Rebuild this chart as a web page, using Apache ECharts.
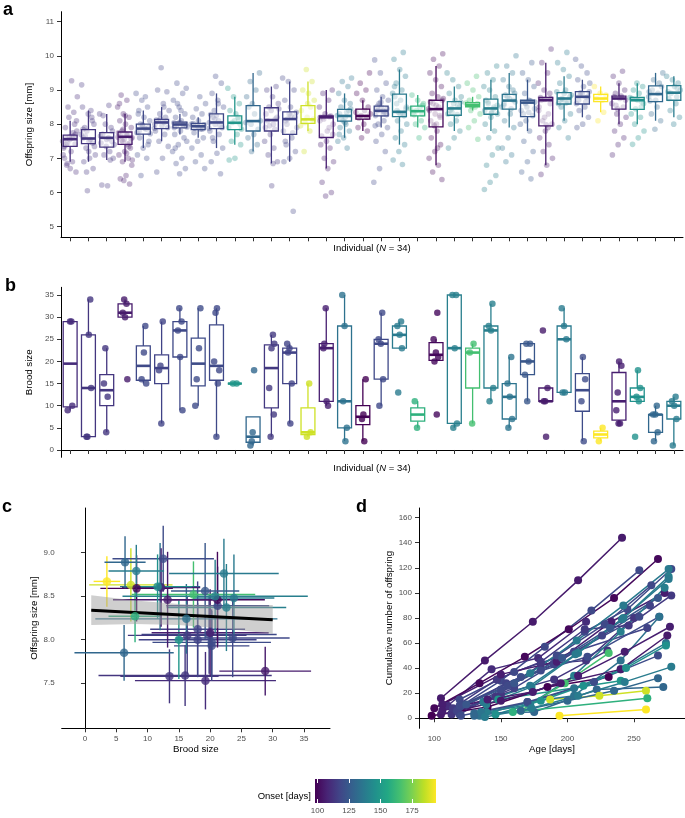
<!DOCTYPE html>
<html><head><meta charset="utf-8">
<script src="https://cdn.jsdelivr.net/npm/echarts@6/dist/echarts.min.js"></script>
<style>html,body{margin:0;padding:0;background:#fff}#c{width:685px;height:818px}</style>
</head><body><div id="c"></div>
<script>
// ---------- DATA ----------
const individuals = Array.from({length:34},(_, i)=>String(i+1));
const onset = [110,113,113,105,119,117,119,120,119,148,130,114,117,187,106,134,98,119,137,159,100,139,165,139,135,124,105,137,120,194,106,146,130,138];

// brood sizes per individual, in chronological order
const broods = [
 [10,29,9,29],[3,14,26,3,34],[4,15,12,23],[16,30,31,33,34],[15,22,16,28],[6,18,29,19],
 [9,21,27,29,32],[10,23,16,32],[3,20,15,31,18,32],[15,15],[4,1,18,2],[8,23,14,26,3,24],
 [6,22,15,23,24],[15,3,4],[11,24,10,32,23],[2,11,5,28,35],[2,7,16,8],[10,16,24,25,31],
 [13,23,26,28,29],[5,11],[8,20,21,22,25,31],[5,6,23,35,35],[6,22,24],[11,14,27,28,33],
 [5,7,12,15,21],[11,17,20,24,24],[3,11,14,11,27],[13,13,25,28,32],[2,11,16,21],[2,5],
 [6,9,6,13,19,20],[3,11,12,14,18],[2,4,8,8,10],[1,7,10,11,12]
];
// age (days) at each brood
const broodAges = [
 [110,143,178,214],[113,146,180,214,250],[113,150,190,230],[105,138,174,208,241],[119,160,205,254],[117,160,205,260],
 [119,150,183,218,254],[120,165,215,269],[119,150,180,213,245,278],[148,240],[130,175,222,272],[114,147,180,213,246,278],
 [117,154,190,226,262],[187,224,259],[106,150,192,233,273],[134,170,205,240,269],[98,140,185,231],[119,155,192,228,263],
 [137,172,207,242,276],[159,260],[100,134,168,201,235,268],[139,172,205,240,273],[165,198,231],[139,173,208,242,276],
 [135,170,205,240,274],[124,160,196,232,268],[105,150,195,240,275],[137,172,206,241,276],[120,170,220,268],[194,259],
 [106,140,174,208,243,277],[146,180,212,244,274],[130,165,200,235,268],[138,173,208,243,278]
];
// offspring size quartiles [Q1, median, Q3] per individual (panel a)
const sizeQuartiles = [
 [7.35,7.56,7.68],[7.43,7.58,7.84],[7.33,7.60,7.75],[7.41,7.63,7.77],[7.71,7.87,8.00],[7.87,8.05,8.14],
 [7.89,7.99,8.06],[7.84,7.94,8.02],[7.87,8.05,8.30],[7.84,8.04,8.24],[7.80,8.09,8.54],[7.80,8.12,8.48],
 [7.70,8.15,8.36],[8.02,8.14,8.54],[7.61,8.20,8.24],[8.09,8.24,8.43],[8.15,8.24,8.44],[8.24,8.39,8.53],
 [8.22,8.36,8.88],[8.24,8.38,8.53],[7.92,8.44,8.70],[8.26,8.46,8.66],[8.51,8.56,8.63],[8.29,8.46,8.73],
 [8.44,8.69,8.87],[8.22,8.63,8.70],[7.95,8.70,8.78],[8.59,8.75,8.92],[8.59,8.80,8.95],[8.66,8.75,8.87],
 [8.44,8.75,8.82],[8.43,8.70,8.78],[8.66,8.88,9.12],[8.70,8.92,9.13]
];
// offspring sizes (mm), a readable sample per individual (panel a)
const sizePoints = [
 [7.5,7.6,7.4,7.7,7.55,7.35,7.65,7.45,7.8,7.2,7.9,8.0,8.2,7.1,6.9,6.8,6.6,6.7,7.0,8.35,8.5,8.8,9.27,7.58,7.42,7.62,7.3,7.75,6.85,8.1],
 [7.5,7.6,7.45,7.8,7.7,7.55,7.9,8.0,8.3,8.5,8.2,7.3,7.1,7.0,6.9,6.7,6.05,9.15,8.4,7.65,7.35,7.2,7.85,8.1,6.6],
 [7.4,7.6,7.7,7.5,7.35,7.65,7.2,7.1,7.0,6.2,6.22,7.9,8.0,8.3,8.55,8.25,7.8,7.55,7.45,6.95],
 [7.5,7.6,7.7,7.65,7.45,7.55,7.75,7.42,7.8,7.9,8.0,8.1,8.2,8.3,8.5,8.7,8.85,7.3,7.2,7.1,7.0,6.9,6.8,6.5,6.4,6.25,6.35,7.62,7.68,7.52,7.58,8.25,8.6,7.35,7.85,6.95,7.15],
 [7.8,7.9,7.95,7.75,7.85,8.0,8.1,8.2,8.3,8.5,8.7,8.9,8.8,7.6,7.5,7.3,7.1,7.0,6.5,7.72,7.88,8.4,7.4,7.98],
 [8.0,8.05,8.1,7.9,7.95,8.12,8.2,8.3,8.4,8.6,9.0,8.95,9.65,7.8,7.7,7.5,7.35,7.0,6.6,8.08,8.15,7.88,8.5],
 [7.95,8.0,8.05,7.9,7.98,8.02,7.92,8.1,8.2,8.3,8.5,8.7,8.9,9.2,9.05,7.8,7.7,7.6,7.4,7.2,7.0,6.85,6.7,6.55,8.04,7.96,8.6,7.5,8.4,7.3],
 [7.9,7.95,8.0,7.85,7.88,7.98,8.1,8.2,8.3,8.45,8.6,8.8,7.75,7.6,7.5,7.3,7.1,6.9,6.7,7.92,8.02,7.86],
 [8.0,8.05,8.1,8.2,7.9,8.25,8.28,7.95,8.4,8.5,8.7,8.9,9.2,9.4,7.8,7.7,7.5,7.3,7.15,6.9,6.55,8.15,7.88,8.6,7.6],
 [8.0,8.1,7.9,8.2,8.05,7.85,8.3,8.4,8.6,8.8,9.05,7.7,7.5,7.4,7.0,6.95,8.15],
 [8.0,8.1,8.3,8.5,7.85,8.6,8.8,9.0,9.25,9.5,7.7,7.6,7.4,7.2,8.05],
 [8.0,8.1,8.2,8.4,7.9,7.85,8.5,8.6,8.8,9.0,9.1,7.7,7.5,7.3,7.1,6.9,6.2,8.3,8.15,7.95,8.45,6.85],
 [8.1,8.2,8.3,7.8,7.75,8.0,8.35,8.5,8.7,9.0,9.25,9.35,7.6,7.4,7.2,7.0,6.9,5.45,8.15,7.9,8.25,7.5],
 [8.1,8.2,8.4,8.5,8.05,8.7,8.9,9.0,9.25,9.6,7.95,7.8,7.2,8.15,8.6],
 [8.2,8.22,8.15,8.0,7.8,7.65,8.24,8.3,8.5,8.7,8.9,9.0,7.5,7.4,7.3,7.0,6.9,6.7,6.3,6.0,5.9,8.1,7.9,8.21,7.7],
 [8.2,8.3,8.4,8.1,8.25,8.35,8.5,8.6,8.7,8.9,9.1,9.25,9.35,8.0,7.9,7.8,7.6,7.5,7.3,8.15,8.45,8.05,7.7],
 [8.2,8.25,8.3,8.4,8.18,8.5,8.7,8.9,9.0,9.2,9.5,8.0,7.9,7.8,7.6,8.35],
 [8.3,8.4,8.45,8.5,8.25,8.35,8.6,8.7,8.8,9.0,9.2,9.5,9.88,8.1,8.0,7.9,7.7,7.5,7.2,6.7,6.3,8.38,8.52,8.28,8.65,7.95],
 [8.3,8.4,8.5,8.7,8.8,8.25,8.35,8.9,9.0,9.2,9.4,9.6,9.9,10.1,8.1,8.0,7.8,7.6,7.4,7.2,6.95,6.82,8.6,8.45,8.28,9.1],
 [8.3,8.4,8.45,8.5,8.28,8.6,8.7,8.85,8.1,8.0,7.9,7.6,8.35,8.55],
 [8.3,8.4,8.5,8.6,8.7,8.0,8.1,8.2,7.95,8.45,8.8,8.9,9.1,9.3,9.5,9.7,9.9,10.06,7.8,7.6,7.4,7.2,7.0,6.8,6.6,6.38,8.55,8.65,8.25,7.98,8.75,7.3],
 [8.4,8.5,8.6,8.3,8.28,8.45,8.65,8.7,8.9,9.1,9.3,9.5,8.1,8.0,7.8,7.6,7.3,8.55,8.35,8.8],
 [8.55,8.58,8.6,8.52,8.62,8.5,8.7,8.8,9.0,9.2,9.4,8.4,8.3,8.1,7.9,7.56,8.57],
 [8.4,8.5,8.6,8.3,8.35,8.7,8.8,9.0,9.1,9.3,9.5,9.7,8.2,8.0,7.8,7.6,7.3,7.1,6.8,6.5,6.3,6.09,8.45,8.65,8.55,8.32],
 [8.6,8.7,8.8,8.5,8.45,8.85,8.9,9.1,9.3,9.5,9.7,10.0,8.3,8.1,7.9,7.6,7.3,7.1,6.9,8.65,8.75,8.55,9.0],
 [8.6,8.65,8.7,8.3,8.25,8.5,8.4,8.68,8.9,9.1,9.3,9.5,9.8,8.1,8.0,7.8,7.5,7.2,6.9,6.6,6.4,8.62,8.45,8.35],
 [8.7,8.75,8.72,8.5,8.3,8.1,8.0,7.98,8.78,8.9,9.0,9.2,9.5,9.8,10.2,7.8,7.6,7.4,7.2,7.0,6.8,6.53,8.6,8.2,8.4,7.9],
 [8.7,8.8,8.9,8.6,8.65,8.75,8.85,9.0,9.2,9.4,9.6,9.8,10.1,8.5,8.3,8.1,7.9,7.6,8.72,8.95,8.62],
 [8.7,8.8,8.9,8.6,8.65,8.85,8.95,9.1,9.3,9.5,9.7,9.9,8.5,8.4,8.2,8.0,7.9,8.78,8.92,9.2],
 [8.7,8.75,8.85,8.9,9.1,8.35,8.1],
 [8.7,8.75,8.8,8.5,8.45,8.6,8.82,8.9,9.0,9.2,9.4,9.55,8.3,8.2,8.0,7.8,7.6,7.4,7.1,8.78,8.55],
 [8.6,8.7,8.75,8.5,8.45,8.78,8.9,9.0,9.1,9.2,8.3,8.2,8.0,7.8,7.6,7.41,8.65,8.72],
 [8.8,8.9,9.0,9.1,8.7,8.68,9.2,9.3,9.5,8.5,8.3,8.1,7.85,8.95],
 [8.8,8.9,9.0,9.1,8.75,9.2,9.3,9.4,8.6,8.4,8.2,8.0,8.95,9.05]
];
// panel c: mean and SD of offspring size per individual
const sizeMean = [7.53,7.59,7.58,7.64,7.93,8.00,8.02,7.97,8.06,8.00,7.85,8.05,8.12,8.63,8.08,8.24,8.59,8.39,8.48,8.27,8.46,8.50,8.52,8.37,8.61,8.56,8.46,8.76,8.93,8.67,8.60,8.61,8.89,8.79];
const sizeSd = [0.33,0.35,0.31,0.28,0.40,0.42,0.45,0.38,0.45,0.45,0.32,0.45,0.55,0.42,0.50,0.40,0.38,0.45,0.50,0.30,0.55,0.42,0.38,0.50,0.50,0.55,0.55,0.40,0.38,0.29,0.45,0.37,0.30,0.30];
// regression line and confidence band (panel c)
const fitX = [1, 30];
const fitY = [8.34, 8.23];
const bandX = [1, 8, 15, 22, 30];
const bandLo = [8.17, 8.18, 8.17, 8.13, 8.07];
const bandHi = [8.51, 8.45, 8.41, 8.39, 8.40];
// tick labels
const ticksA = [5,6,7,8,9,10,11];
const ticksB = [0,5,10,15,20,25,30,35];
const ticksCx = [0,5,10,15,20,25,30,35];
const ticksCy = [7.5,8.0,8.5,9.0];
const ticksDx = [100,150,200,250];
const ticksDy = [0,20,40,60,80,100,120,140,160];
const ticksLegend = [100,125,150,175];

// ---------- HELPERS ----------
const VIR = ['#440154','#482475','#414487','#355f8d','#2a788e','#21918c','#22a884','#44bf70','#7ad151','#bddf26','#fde725'];
function hex2rgb(h){return [1,3,5].map(k=>parseInt(h.substr(k,2),16));}
function viridis(t){
  t=Math.max(0,Math.min(1,t)); const s=t*(VIR.length-1); const i=Math.min(Math.floor(s),VIR.length-2); const f=s-i;
  const a=hex2rgb(VIR[i]), b=hex2rgb(VIR[i+1]);
  return 'rgb('+a.map((v,k)=>Math.round(v+(b[k]-v)*f)).join(',')+')';
}
const oMin = Math.min(...onset), oMax = Math.max(...onset);
const colors = onset.map(o=>viridis((o-oMin)/(oMax-oMin)));
function q7(s,p){const h=(s.length-1)*p, lo=Math.floor(h); const hiV = s[Math.min(lo+1,s.length-1)]; return s[lo]+(h-lo)*(hiV-s[lo]);}
function whiskers(pts,q1,q3){const iqr=q3-q1; const inF=pts.filter(v=>v>=q1-1.5*iqr && v<=q3+1.5*iqr); return [Math.min(q1,...inF), Math.max(q3,...inF)];}
function mean(a){return a.reduce((s,v)=>s+v,0)/a.length;}
function sd(a){if(a.length<2)return 0; const m=mean(a); return Math.sqrt(a.reduce((s,v)=>s+(v-m)*(v-m),0)/(a.length-1));}
function jit(g){return ((g*0.6180339887)%1)-0.5;}

// panel a boxes and points
const boxA = sizeQuartiles.map((q,i)=>{const w=whiskers(sizePoints[i],q[0],q[2]); return [i,w[0],q[0],q[1],q[2],w[1]];});
let g=0; const ptsA=[];
sizePoints.forEach((arr,i)=>arr.forEach(v=>{ptsA.push({value:[i,v],symbolOffset:[jit(g++)*15,0],itemStyle:{color:colors[i],opacity:0.32}});}));
// panel b
const boxB = broods.map((b,i)=>{const s=[...b].sort((x,y)=>x-y); const q1=q7(s,.25),m=q7(s,.5),q3=q7(s,.75); const w=whiskers(s,q1,q3); return [i,w[0],q1,m,q3,w[1]];});
g=3; const ptsB=[];
broods.forEach((arr,i)=>arr.forEach(v=>{ptsB.push({value:[i,v],symbolOffset:[jit(g++)*6,0],itemStyle:{color:colors[i]}});}));
// panel c
const errC = broods.map((b,i)=>[mean(b),sizeMean[i],sd(b),sizeSd[i],i]);
const ptsC = broods.map((b,i)=>({value:[mean(b),sizeMean[i]],itemStyle:{color:colors[i]}}));
// panel d
const cum = broods.map(b=>{let s=0; return b.map(v=>s+=v);});

function boxRender(fill,lw,mlw,frac){
  return function(p,api){
    const i=api.value(0); const c=colors[i];
    const lo=api.coord([i,api.value(1)]), q1=api.coord([i,api.value(2)]), m=api.coord([i,api.value(3)]), q3=api.coord([i,api.value(4)]), hi=api.coord([i,api.value(5)]);
    const w=api.size([1,0])[0]*frac, x=q1[0];
    const st={stroke:c,lineWidth:lw};
    return {type:'group',children:[
      {type:'line',shape:{x1:x,y1:hi[1],x2:x,y2:q3[1]},style:st},
      {type:'line',shape:{x1:x,y1:q1[1],x2:x,y2:lo[1]},style:st},
      {type:'rect',shape:{x:x-w/2,y:q3[1],width:w,height:q1[1]-q3[1]},style:{fill:fill,stroke:c,lineWidth:lw}},
      {type:'line',shape:{x1:x-w/2,y1:m[1],x2:x+w/2,y2:m[1]},style:{stroke:c,lineWidth:mlw}}
    ]};
  };
}

const FONT='"Liberation Sans", Arial, sans-serif';
const axLine={show:true,lineStyle:{color:'#000',width:1}};
const tick=(vals)=>({show:true,length:4,lineStyle:{color:'#333',width:1},customValues:vals});
const lab=(vals,extra)=>Object.assign({show:true,color:'#4d4d4d',fontSize:8,margin:7,customValues:vals,fontFamily:FONT},extra||{});
const nameSt={color:'#000',fontSize:9.7,fontFamily:FONT};
const indName={name:'{r|Individual (}{i|N}{r| = 34)}',nameLocation:'middle',nameGap:6,
  nameTextStyle:{rich:{r:{fontSize:9.5,color:'#000',fontFamily:FONT},i:{fontSize:9.5,color:'#000',fontStyle:'italic',fontFamily:FONT}}}};

const option={
  animation:false,
  textStyle:{fontFamily:FONT},
  grid:[
    {left:61,top:11.7,width:622,height:225.6},
    {left:61,top:287.3,width:622,height:170},
    {left:61.7,top:508,width:268.3,height:220.3},
    {left:419,top:508,width:266,height:220.3},
    {left:315,top:779,width:121,height:24}
  ],
  xAxis:[
    Object.assign({type:'category',gridIndex:0,data:individuals,axisLine:axLine,axisTick:{show:true,length:4,alignWithLabel:true,lineStyle:{color:'#333'}},axisLabel:{show:false},splitLine:{show:false}},indName),
    Object.assign({type:'category',gridIndex:1,data:individuals,axisLine:axLine,axisTick:{show:true,length:4,alignWithLabel:true,lineStyle:{color:'#333'}},axisLabel:{show:false},splitLine:{show:false}},indName),
    {type:'value',gridIndex:2,min:-3.72,max:39.15,axisLine:axLine,axisTick:tick(ticksCx),axisLabel:lab(ticksCx,{margin:6}),splitLine:{show:false},name:'Brood size',nameLocation:'middle',nameGap:16,nameTextStyle:nameSt},
    {type:'value',gridIndex:3,min:88.5,max:288.3,axisLine:axLine,axisTick:tick(ticksDx),axisLabel:lab(ticksDx,{margin:6}),splitLine:{show:false},name:'Age [days]',nameLocation:'middle',nameGap:16,nameTextStyle:nameSt},
    {type:'value',gridIndex:4,min:oMin,max:oMax,z:10,axisLine:{show:false},axisTick:{show:true,inside:true,length:4,lineStyle:{color:'#fff',width:1},customValues:ticksLegend},axisLabel:lab(ticksLegend,{margin:4}),splitLine:{show:false}},
    {type:'value',gridIndex:4,position:'top',min:oMin,max:oMax,z:10,axisLine:{show:false},axisTick:{show:true,inside:true,length:4,lineStyle:{color:'#fff',width:1},customValues:ticksLegend},axisLabel:{show:false},splitLine:{show:false}}
  ],
  yAxis:[
    {type:'value',gridIndex:0,min:4.69,max:11.29,axisLine:axLine,axisTick:tick(ticksA),axisLabel:lab(ticksA),splitLine:{show:false},name:'Offspring size [mm]',nameLocation:'middle',nameGap:22,nameTextStyle:nameSt},
    {type:'value',gridIndex:1,min:-1.65,max:36.74,axisLine:axLine,axisTick:tick(ticksB),axisLabel:lab(ticksB),splitLine:{show:false},name:'Brood size',nameLocation:'middle',nameGap:22,nameTextStyle:nameSt},
    {type:'value',gridIndex:2,min:6.983,max:9.513,axisLine:axLine,axisTick:tick(ticksCy),axisLabel:lab(ticksCy,{formatter:v=>(+v).toFixed(1)}),splitLine:{show:false},name:'Offspring size [mm]',nameLocation:'middle',nameGap:22,nameTextStyle:nameSt},
    {type:'value',gridIndex:3,min:-8,max:167.7,axisLine:axLine,axisTick:tick(ticksDy),axisLabel:lab(ticksDy),splitLine:{show:false},name:'Cumulative number of offspring',nameLocation:'middle',nameGap:24,nameTextStyle:nameSt},
    {type:'value',gridIndex:4,min:0,max:1,show:false}
  ],
  graphic:[
    {type:'text',left:3,top:1,style:{text:'a',font:'bold 18px '+FONT,fill:'#000'}},
    {type:'text',left:5,top:277,style:{text:'b',font:'bold 18px '+FONT,fill:'#000'}},
    {type:'text',left:2,top:498,style:{text:'c',font:'bold 18px '+FONT,fill:'#000'}},
    {type:'text',left:356,top:498,style:{text:'d',font:'bold 18px '+FONT,fill:'#000'}},
    {type:'text',right:685-311,top:791,style:{text:'Onset [days]',font:'9.5px '+FONT,fill:'#000'}}
  ],
  series:[
    {type:'scatter',xAxisIndex:0,yAxisIndex:0,symbolSize:5.6,data:ptsA,z:2,silent:true},
    {type:'custom',xAxisIndex:0,yAxisIndex:0,data:boxA,renderItem:boxRender('rgba(255,255,255,0.45)',1.3,2.6,0.76),encode:{x:0,y:[1,2,3,4,5]},z:3,silent:true},
    {type:'custom',xAxisIndex:1,yAxisIndex:1,data:boxB,renderItem:boxRender('#fff',1.3,2.6,0.76),encode:{x:0,y:[1,2,3,4,5]},z:2,silent:true},
    {type:'scatter',xAxisIndex:1,yAxisIndex:1,symbolSize:6.5,data:ptsB,z:3,silent:true},
    {type:'custom',xAxisIndex:2,yAxisIndex:2,data:errC,encode:{x:0,y:1},z:2,silent:true,
      renderItem:(p,api)=>{const x=api.value(0),y=api.value(1),sx=api.value(2),sy=api.value(3),c=colors[api.value(4)];
        const a1=api.coord([x-sx,y]),a2=api.coord([x+sx,y]),b1=api.coord([x,y-sy]),b2=api.coord([x,y+sy]);
        const st={stroke:c,lineWidth:1.4};
        return {type:'group',children:[{type:'line',shape:{x1:a1[0],y1:a1[1],x2:a2[0],y2:a2[1]},style:st},{type:'line',shape:{x1:b1[0],y1:b1[1],x2:b2[0],y2:b2[1]},style:st}]};}},
    {type:'custom',xAxisIndex:2,yAxisIndex:2,data:bandX.map((x,k)=>[x,bandLo[k],bandHi[k]]),encode:{x:0,y:[1,2]},z:3,silent:true,
      renderItem:(p,api)=>{ if(p.dataIndex!==0) return null;
        const top=bandX.map((x,k)=>api.coord([x,bandHi[k]])); const bot=bandX.map((x,k)=>api.coord([x,bandLo[k]])).reverse();
        return {type:'polygon',shape:{points:top.concat(bot)},style:{fill:'rgba(160,160,160,0.5)'}};}},
    {type:'line',xAxisIndex:2,yAxisIndex:2,data:fitX.map((x,k)=>[x,fitY[k]]),symbol:'none',lineStyle:{color:'#000',width:3},z:4,silent:true},
    {type:'scatter',xAxisIndex:2,yAxisIndex:2,symbolSize:8.5,data:ptsC,z:5,silent:true},
    ...broods.map((b,i)=>({type:'line',xAxisIndex:3,yAxisIndex:3,data:broodAges[i].map((a,k)=>[a,cum[i][k]]),symbol:'circle',symbolSize:8,showSymbol:true,
      lineStyle:{color:colors[i],width:1.5},itemStyle:{color:colors[i]},z:2,silent:true})),
    {type:'custom',xAxisIndex:4,yAxisIndex:4,data:[[oMin,oMax]],encode:{x:[0,1]},z:2,silent:true,
      renderItem:(p,api)=>{const p0=api.coord([api.value(0),0]),p1=api.coord([api.value(1),1]);
        const stops=VIR.map((c,k)=>({offset:k/(VIR.length-1),color:c}));
        return {type:'rect',shape:{x:p0[0],y:p1[1],width:p1[0]-p0[0],height:p0[1]-p1[1]},style:{fill:new echarts.graphic.LinearGradient(0,0,1,0,stops)}};}}
  ]
};
const chart=echarts.init(document.getElementById('c'),null,{renderer:'canvas'});
chart.setOption(option);
</script></body></html>
